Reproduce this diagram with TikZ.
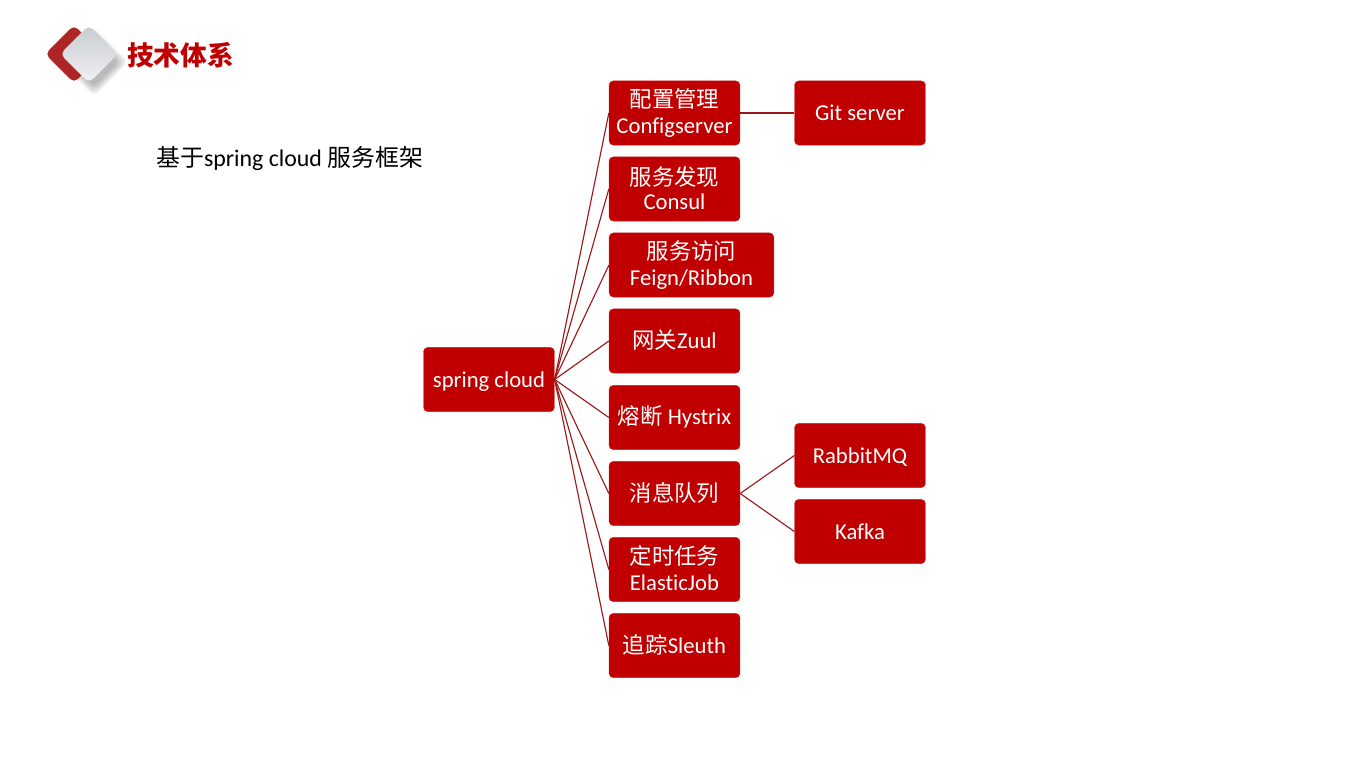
\documentclass[tikz,border=0pt]{standalone}
\usepackage{fontspec}
\setmainfont[Ligatures=NoCommon]{Carlito}
\newfontfamily\cjk{Noto Sans CJK SC}
\definecolor{boxred}{HTML}{C00000}
\definecolor{linkred}{HTML}{9A1818}
\definecolor{logored}{HTML}{AE2525}
\definecolor{logodark}{HTML}{C8CBD0}
\definecolor{logolight}{HTML}{F0F1F3}
\tikzset{
  box/.style={draw=boxred!85!white, line width=.3pt, fill=boxred, rounded corners=3.2pt, text=white, inner sep=0pt,
    minimum width=98.2pt, minimum height=48.2pt, align=center, font=\fontsize{17pt}{20pt}\selectfont},
  link/.style={draw=linkred, line width=.85pt},
  logobox/.style={rectangle, rotate=45, rounded corners=3.8pt, minimum size=30.5pt, inner sep=0pt}
}
\newcommand{\zh}[1]{{\cjk\fontsize{16.8pt}{20pt}\selectfont #1}}
\newcommand{\nudge}[2]{\raisebox{#1}[\height][\depth]{#2}}
\begin{document}
\begin{tikzpicture}[x=.75pt,y=-.75pt]
\useasboundingbox (0,0) rectangle (1350,759);
% logo
\foreach \i in {1,...,10}
  \node[logobox, fill=black, fill opacity=.03, minimum size=24pt+\i*1.3pt] (shade\i) at (94,62) {};
\node[logobox, fill=logored] (logoback) at (74,54) {};
\node[logobox, shade, shading angle=-45, top color=logodark, bottom color=logolight] (logofront) at (89,54) {};
\node[text=boxred, inner sep=0pt, font=\cjk\bfseries\fontsize{20pt}{24pt}\selectfont] (title) at (180.5,55) {技术体系};
\node[inner sep=0pt, anchor=west, font=\fontsize{17.9pt}{20pt}\selectfont] (intro) at (156,158.5) {{\cjk 基于}spring cloud {\cjk 服务框架}};
% tree
\node[box] (spring) at (489,379.5) {\nudge{-1.5pt}{spring cloud}};
\node[box] (config) at (674.5,113) {\zh{配置管理}\\Configserver};
\node[box] (consul) at (674.5,189) {\zh{服务发现}\\\nudge{1.5pt}{Consul}};
\node[box, minimum width=123.5pt] (feign) at (691.5,265) {\zh{服务访问}\\Feign/Ribbon};
\node[box] (zuul) at (674.5,341) {\nudge{.7pt}{\zh{网关}Zuul}};
\node[box] (hystrix) at (674.5,417.5) {\nudge{.7pt}{\zh{熔断} Hystrix}};
\node[box] (queue) at (674.5,493.5) {\nudge{.7pt}{\zh{消息队列}}};
\node[box] (elastic) at (674.5,569.5) {\nudge{.7pt}{\zh{定时任务}}\\\nudge{1.5pt}{ElasticJob}};
\node[box] (sleuth) at (674.5,645.5) {\nudge{.7pt}{\zh{追踪}Sleuth}};
\node[box] (git) at (860,113) {Git server};
\node[box] (rabbit) at (860,455.5) {\nudge{-1.2pt}{RabbitMQ}};
\node[box] (kafka) at (860,531.5) {Kafka};
\foreach \kid in {config,consul,feign,zuul,hystrix,queue,elastic,sleuth}
  \draw[link] (spring.east) -- (\kid.west);
\draw[link] (config.east) -- (git.west);
\draw[link] (queue.east) -- (rabbit.west);
\draw[link] (queue.east) -- (kafka.west);
\end{tikzpicture}
\end{document}
